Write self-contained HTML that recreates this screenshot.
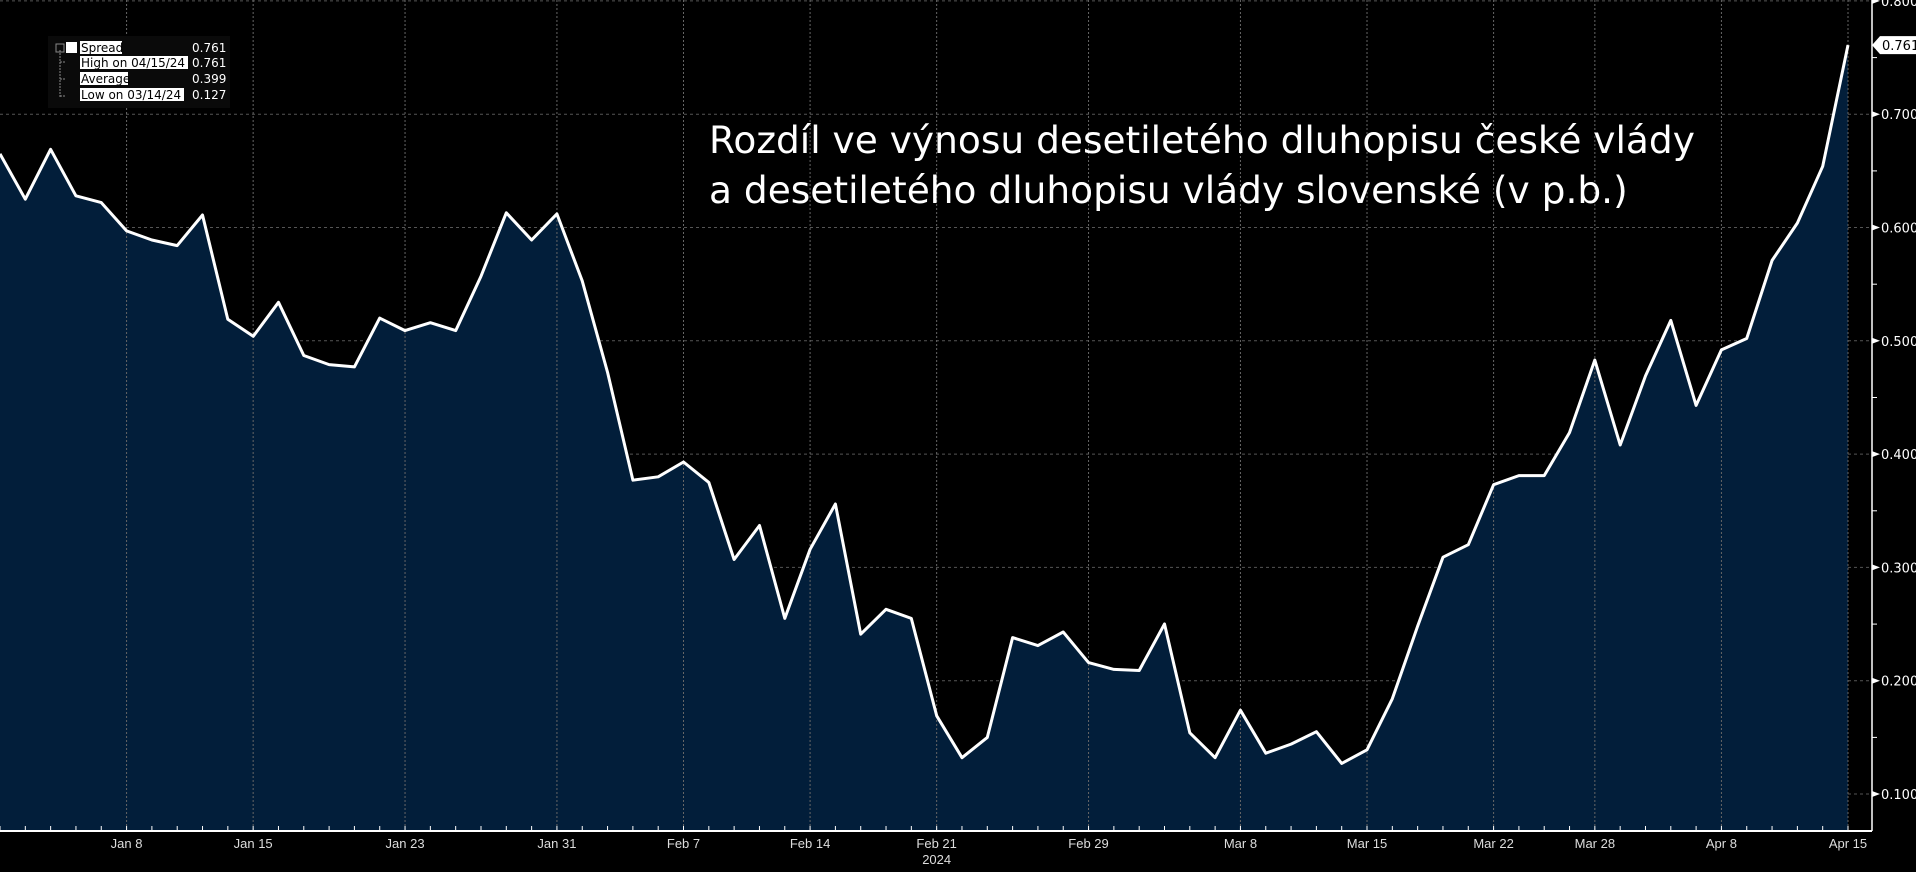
<!DOCTYPE html>
<html><head><meta charset="utf-8"><style>
html,body{margin:0;padding:0;background:#000;width:1916px;height:872px;overflow:hidden}
svg{display:block}
</style></head><body>
<svg id="chart" width="1916" height="872" xmlns="http://www.w3.org/2000/svg">
<rect width="1916" height="872" fill="#000"/>
<g id="grid"></g>
<path id="area" fill="#021e3a"/>
<g id="vgrid"></g>
<path id="line" fill="none" stroke="#fff" stroke-width="3" stroke-linejoin="round"/>
<g id="axes"></g>
<text x="709" y="153" fill="#fff" font-family="DejaVu Sans, sans-serif" font-size="37.5">Rozdíl ve výnosu desetiletého dluhopisu české vlády</text>
<text x="709" y="203" fill="#fff" font-family="DejaVu Sans, sans-serif" font-size="37.5">a desetiletého dluhopisu vlády slovenské (v p.b.)</text>
<g font-family="DejaVu Sans, sans-serif" font-size="12">
<rect x="48" y="36" width="182" height="72" fill="#0a0a0a"/>
<path d="M60 50 V98 M60 62 H66 M60 79 H66 M60 96 H66" stroke="#888" stroke-width="1" stroke-dasharray="2,1"/>
<rect x="56" y="44" width="8" height="8" fill="none" stroke="#888"/>
<rect x="66" y="42" width="11" height="11" fill="#fff"/>
<rect x="80" y="41" width="42" height="13" fill="#fff"/><text x="81" y="52" fill="#000">Spread</text><text x="192" y="52" fill="#fff">0.761</text>
<rect x="80" y="56" width="108" height="13" fill="#fff"/><text x="81" y="67" fill="#000">High on 04/15/24</text><text x="192" y="67" fill="#fff">0.761</text>
<rect x="80" y="72" width="48" height="13" fill="#fff"/><text x="81" y="83" fill="#000">Average</text><text x="192" y="83" fill="#fff">0.399</text>
<rect x="80" y="88" width="104" height="13" fill="#fff"/><text x="81" y="99" fill="#000">Low on 03/14/24</text><text x="192" y="99" fill="#fff">0.127</text>
</g>
</svg>
<script>
const values=[0.665,0.625,0.669,0.628,0.622,0.597,0.589,0.584,0.611,0.519,0.504,0.534,0.487,0.479,0.477,0.520,0.509,0.516,0.509,0.557,0.613,0.589,0.612,0.553,0.472,0.377,0.380,0.393,0.375,0.307,0.337,0.255,0.316,0.356,0.241,0.263,0.255,0.169,0.132,0.150,0.238,0.231,0.243,0.216,0.210,0.209,0.250,0.154,0.132,0.174,0.136,0.144,0.155,0.127,0.139,0.184,0.248,0.309,0.320,0.373,0.381,0.381,0.419,0.483,0.408,0.469,0.518,0.443,0.492,0.502,0.571,0.604,0.654,0.761];
const tickLabels=["Jan 8","Jan 15","Jan 23","Jan 31","Feb 7","Feb 14","Feb 21","Feb 29","Mar 8","Mar 15","Mar 22","Mar 28","Apr 8","Apr 15"];
const tickIdx=[5,10,16,22,27,32,37,43,49,54,59,63,68,73];
const yTicks=[0.1,0.2,0.3,0.4,0.5,0.6,0.7,0.8];
const NS="http://www.w3.org/2000/svg";
const X0=0,STEP=1848/73,BASE=831,AX=1872;
const x=i=>X0+i*STEP;
const y=v=>794-(v-0.1)*1133;
function mk(tag,attrs,parent){const e=document.createElementNS(NS,tag);for(const k in attrs)e.setAttribute(k,attrs[k]);parent.appendChild(e);return e;}
const grid=document.getElementById('grid'),vg=document.getElementById('vgrid'),axes=document.getElementById('axes');
let d='';values.forEach((v,i)=>{d+=(i?'L':'M')+x(i).toFixed(1)+' '+y(v).toFixed(1)});
document.getElementById('line').setAttribute('d',d);
document.getElementById('area').setAttribute('d',d+'L'+x(values.length-1)+' '+BASE+'L'+x(0)+' '+BASE+'Z');
yTicks.forEach(t=>{
 const yy=y(t);
 const g=mk('line',{x1:0,x2:AX,y1:yy,y2:yy,stroke:'#555','stroke-dasharray':'3,3','stroke-width':1},grid);
 
 const m=mk('path',{d:`M${AX} ${yy-3}L${AX+8} ${yy}L${AX} ${yy+3}Z`,fill:'#fff'},axes);
 
 const tx=mk('text',{x:AX+9,y:yy+5,fill:'#fff','font-family':'DejaVu Sans, sans-serif','font-size':13},axes);
 tx.textContent=t.toFixed(3);
 
 const mt=mk('line',{x1:AX,x2:AX+5,y1:yy-56.6,y2:yy-56.6,stroke:'#fff'},axes);
 
});
tickIdx.forEach((ix,k)=>{
 const xx=x(ix);
 const g=mk('line',{x1:xx,x2:xx,y1:0,y2:BASE,stroke:'#666','stroke-dasharray':'2,2'},vg);
 
 const t=mk('text',{x:xx,y:848,fill:'#ddd','font-family':'Liberation Sans, sans-serif','font-size':13,'text-anchor':'middle'},axes);
 t.textContent=tickLabels[k];
 
});
values.forEach((v,i)=>{const t=mk('line',{x1:x(i),x2:x(i),y1:BASE,y2:BASE-5,stroke:'#fff'},axes);
 });
const yr=mk('text',{x:x(37),y:864,fill:'#ddd','font-family':'Liberation Sans, sans-serif','font-size':13,'text-anchor':'middle'},axes);
yr.textContent='2024';
const xa=mk('line',{x1:0,x2:AX,y1:BASE,y2:BASE,stroke:'#fff','stroke-width':2},axes);

const ya=mk('line',{x1:AX,x2:AX,y1:0,y2:BASE,stroke:'#fff','stroke-width':1.5},axes);

const lv=values[values.length-1],ly=y(lv);
const lb=mk('path',{d:`M${AX} ${ly}L${AX+8} ${ly-9}H1916V${ly+9}H${AX+8}Z`,fill:'#fff'},axes);

const lt=mk('text',{x:AX+10,y:ly+5,fill:'#000','font-family':'DejaVu Sans, sans-serif','font-size':13},axes);
lt.textContent=lv.toFixed(3);
</script>
</body></html>
